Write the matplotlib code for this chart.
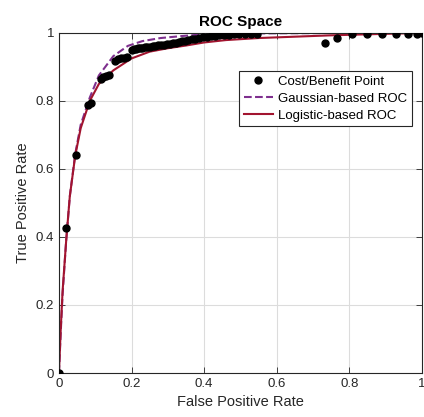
import matplotlib

matplotlib.use("Agg")
import matplotlib.pyplot as plt  # noqa: E402

plt.rcParams["font.family"] = ["Liberation Sans", "DejaVu Sans"]

# Cost/benefit operating points
PT_FPR = [0.0, 0.020, 0.047, 0.081, 0.088,
          0.115, 0.122, 0.130, 0.138,
          0.155, 0.163, 0.171, 0.179, 0.187,
          0.200, 0.206, 0.212, 0.218, 0.224, 0.230, 0.237, 0.244, 0.251, 0.258,
          0.266, 0.274, 0.282, 0.290, 0.298, 0.306, 0.314, 0.322, 0.330, 0.338,
          0.347, 0.356, 0.366, 0.376, 0.386, 0.396, 0.407, 0.418, 0.430, 0.442,
          0.455, 0.468, 0.482, 0.497, 0.512, 0.528, 0.545,
          0.732, 0.767, 0.807, 0.848, 0.889, 0.929, 0.963, 0.987, 1.0]
PT_TPR = [0.0, 0.425, 0.641, 0.787, 0.795,
          0.866, 0.870, 0.873, 0.877,
          0.918, 0.922, 0.925, 0.927, 0.930,
          0.950, 0.952, 0.954, 0.955, 0.956, 0.957, 0.958, 0.959, 0.960, 0.961,
          0.963, 0.964, 0.965, 0.966, 0.967, 0.968, 0.970, 0.971, 0.973, 0.975,
          0.977, 0.979, 0.981, 0.983, 0.985, 0.987, 0.989, 0.991, 0.992, 0.993,
          0.994, 0.995, 0.996, 0.997, 0.997, 0.998, 0.998,
          0.971, 0.985, 0.997, 0.997, 0.997, 0.997, 0.998, 0.998, 1.0]

# Fitted curves
GAUSS_FPR = [0, 0.005, 0.01, 0.02, 0.03, 0.045, 0.06, 0.085, 0.11, 0.15,
             0.19, 0.23, 0.28, 0.34, 0.40, 0.45, 0.60, 0.80, 1.0]
GAUSS_TPR = [0, 0.12, 0.23, 0.39, 0.52, 0.645, 0.73, 0.81, 0.875, 0.932,
             0.962, 0.976, 0.985, 0.991, 0.996, 0.998, 0.999, 1.0, 1.0]
LOGIT_FPR = [0, 0.005, 0.01, 0.02, 0.03, 0.045, 0.06, 0.085, 0.11, 0.15,
             0.20, 0.25, 0.30, 0.35, 0.40, 0.46, 0.55, 0.65, 0.75, 0.85, 1.0]
LOGIT_TPR = [0, 0.13, 0.24, 0.39, 0.52, 0.64, 0.72, 0.80, 0.85, 0.89,
             0.925, 0.945, 0.955, 0.963, 0.972, 0.979, 0.985, 0.989, 0.993, 0.996, 1.0]

TICKS = [0, 0.2, 0.4, 0.6, 0.8, 1]
TICK_LABELS = ["0", "0.2", "0.4", "0.6", "0.8", "1"]

fig = plt.figure(figsize=(4.24, 4.17), dpi=100)
ax = fig.add_axes([0.139, 0.1055, 0.856, 0.8155])

ax.plot(PT_FPR, PT_TPR, "o", color="black", ms=5, label="Cost/Benefit Point", zorder=3)
ax.plot(GAUSS_FPR, GAUSS_TPR, "--", color="#7E2F8E", lw=1.5, label="Gaussian-based ROC", zorder=2)
ax.plot(LOGIT_FPR, LOGIT_TPR, "-", color="#A2142F", lw=1.5, label="Logistic-based ROC", zorder=2)

ax.set_xlim(0, 1)
ax.set_ylim(0, 1)
ax.set_xticks(TICKS)
ax.set_xticklabels(TICK_LABELS)
ax.set_yticks(TICKS)
ax.set_yticklabels(TICK_LABELS)
ax.tick_params(direction="in", length=4, width=0.6, labelsize=9.5, colors="#262626",
               top=True, right=True)
for s in ax.spines.values():
    s.set_color("#262626")
    s.set_linewidth(0.8)
ax.grid(color="#dcdcdc", lw=0.8)
ax.set_axisbelow(True)

ax.set_xlabel("False Positive Rate", fontsize=10.5, color="#262626")
ax.set_ylabel("True Positive Rate", fontsize=10.5, color="#262626")
ax.set_title("ROC Space", fontsize=11, fontweight="bold", pad=5)

leg = ax.legend(loc="upper right", bbox_to_anchor=(0.972, 0.888), fontsize=9.5,
                fancybox=False, framealpha=1, edgecolor="#262626",
                handlelength=2.2, handletextpad=0.4, borderpad=0.35,
                labelspacing=0.35, borderaxespad=0)
leg.get_frame().set_linewidth(0.8)

fig.savefig("out.png", dpi=100)
